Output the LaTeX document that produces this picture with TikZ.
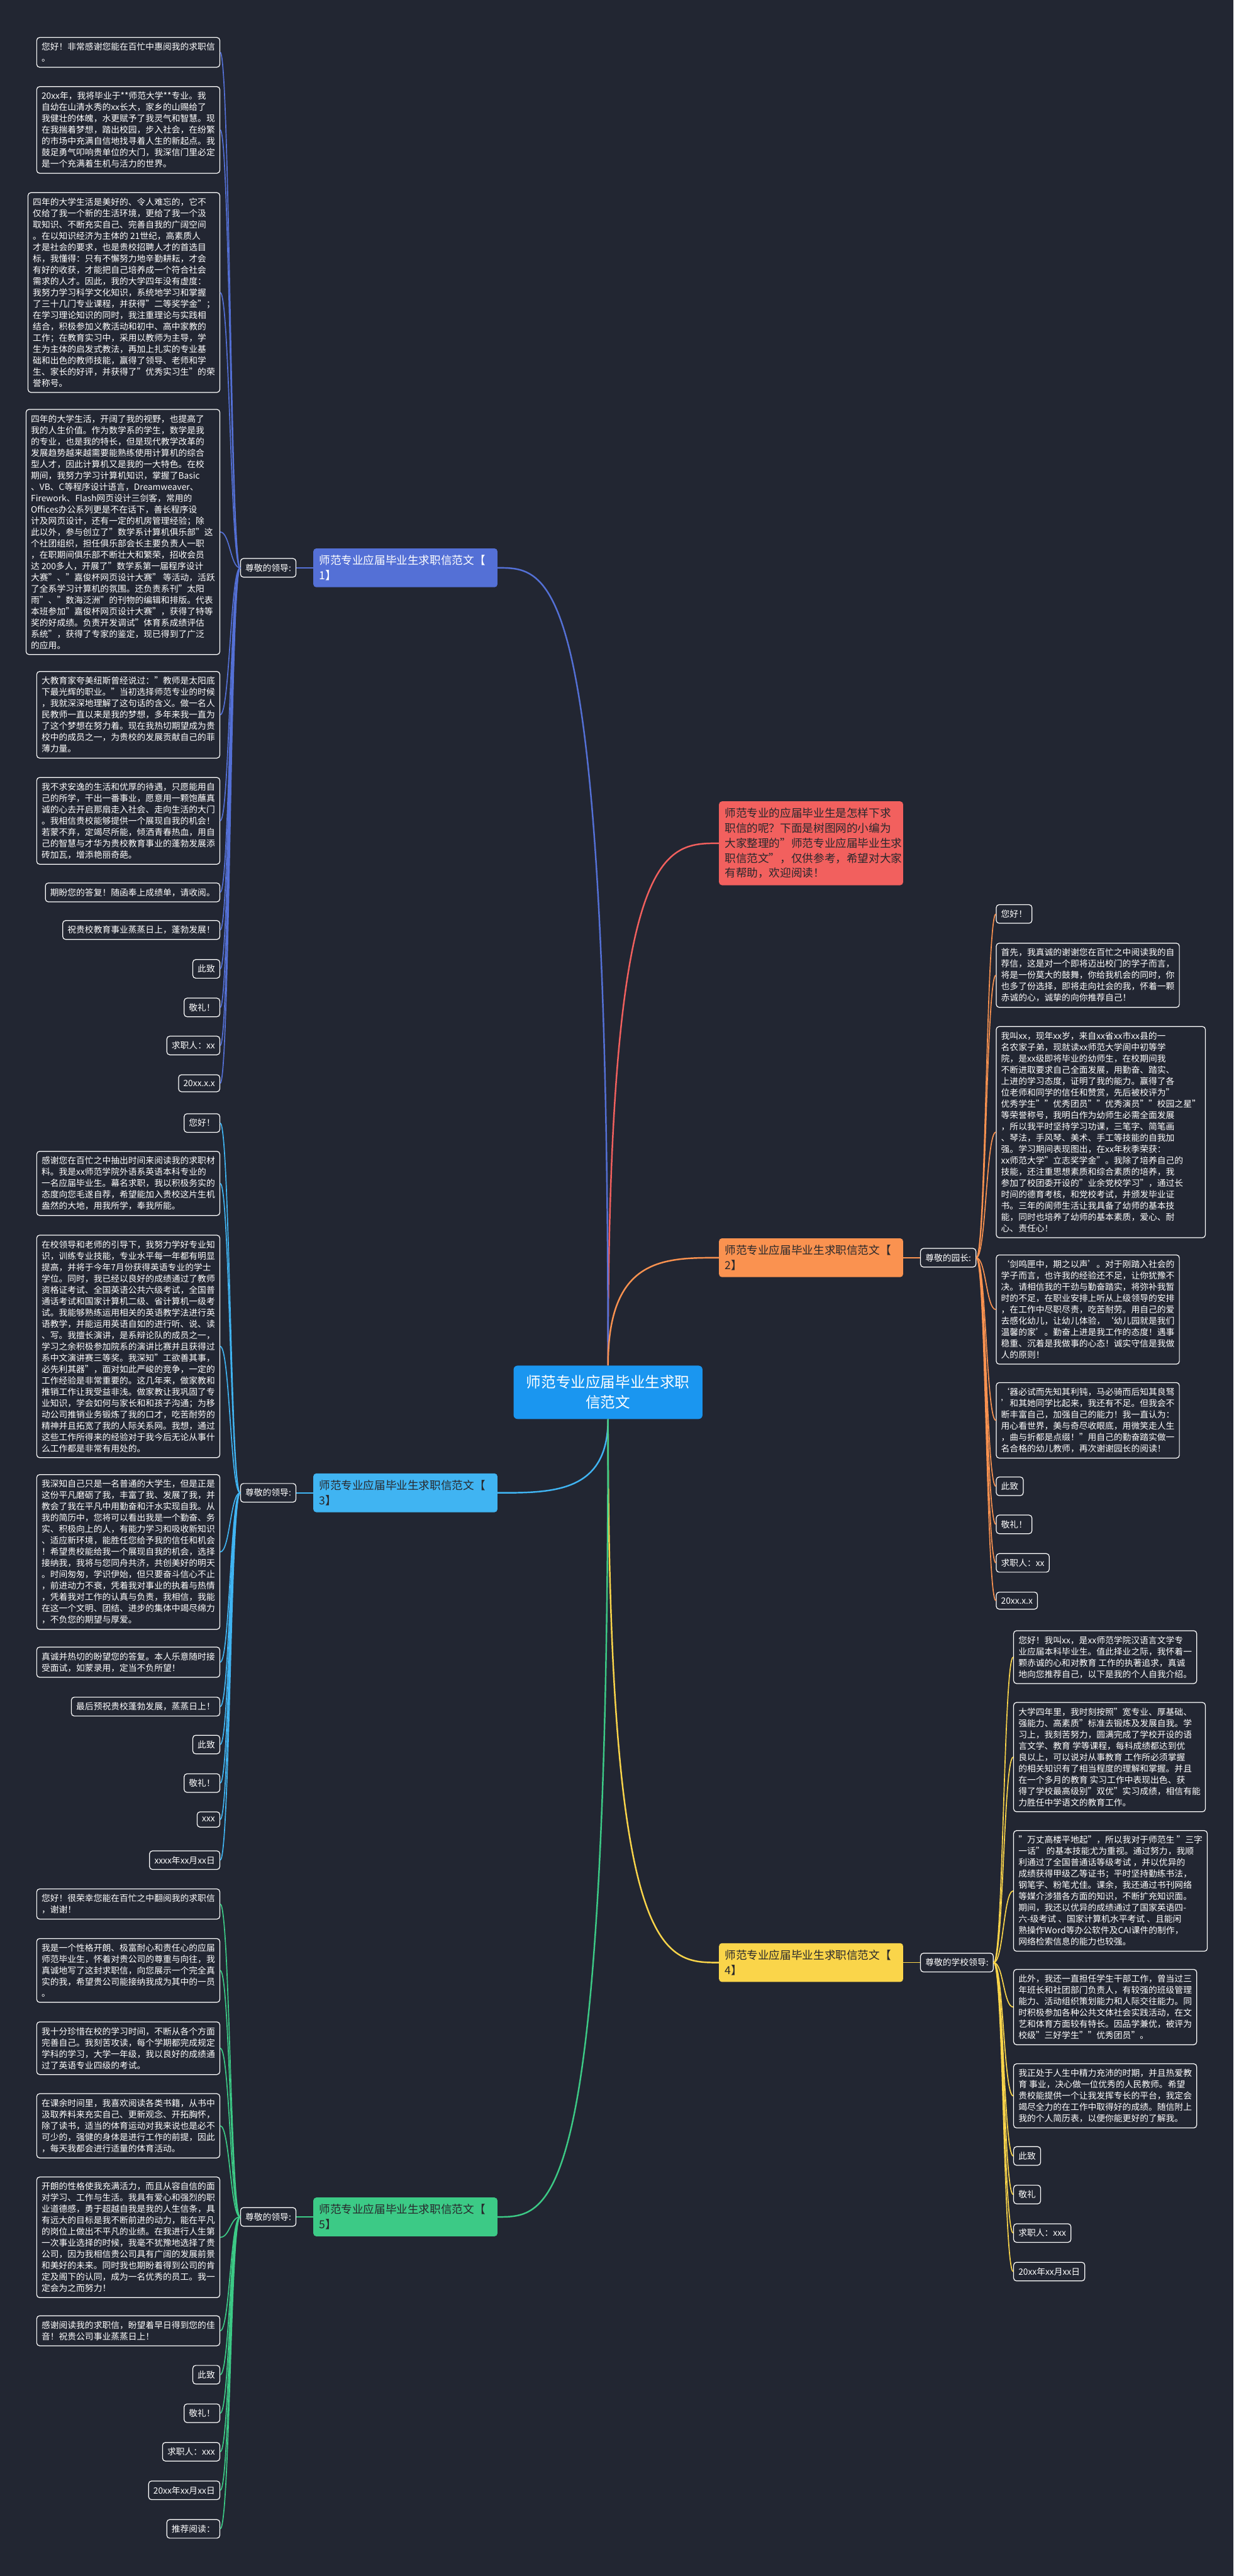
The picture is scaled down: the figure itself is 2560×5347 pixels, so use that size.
\documentclass[tikz,border=0pt]{standalone}
\usepackage{fontspec}
\setmainfont{Noto Sans CJK SC}
\usepackage{xcolor}
\usetikzlibrary{calc}
\definecolor{grund}{RGB}{34,38,50}
\definecolor{dunkel}{RGB}{40,40,44}
\definecolor{mitteblau}{RGB}{26,150,240}
\definecolor{astrot}{RGB}{242,96,94}
\definecolor{astblau}{RGB}{84,112,214}
\definecolor{astorange}{RGB}{250,146,80}
\definecolor{asthellblau}{RGB}{64,180,242}
\definecolor{astgelb}{RGB}{250,213,74}
\definecolor{astgruen}{RGB}{60,202,134}
\newcommand{\Ast}[3]{\draw[ast,#1] (#2) .. controls (#2 |- #3) and ($(#2 |- #3)!0.5!(#3)$) .. (#3);}

\begin{document}
\begin{tikzpicture}[x=0.5pt,y=-0.5pt,
  kasten/.style={draw=white,line width=0.8pt,rounded corners=3pt,fill=grund,text=white,
    font=\fontsize{9}{11.75}\selectfont,inner xsep=5pt,inner ysep=5.5pt},
  breit/.style={kasten,align=left,minimum width=190pt},
  astknoten/.style={rounded corners=3pt,text width=179pt,align=left,inner xsep=6pt,
    inner ysep=7pt,font=\fontsize{11.5}{15.5}\selectfont,text=dunkel},
  kante/.style={line width=1.1pt},
  ast/.style={line width=1.6pt}]
  \useasboundingbox (0,0) rectangle (2560,5347);
  \fill[grund] (0,0) rectangle (2560,5347);

  % Mitte und Hauptaeste
  \node[fill=mitteblau,rounded corners=4pt,text=white,text width=170pt,align=center,
    inner xsep=13pt,inner ysep=10pt,font=\fontsize{15.4}{21}\selectfont]
    (mitte) at (1262,2890) {师范专业应届毕业生求职\\信范文};
  \node[astknoten,fill=astrot,anchor=north west] (einleitung) at (1492,1663)
    {师范专业的应届毕业生是怎样下求\\职信的呢？下面是树图网的小编为\\大家整理的"师范专业应届毕业生求\\职信范文"，仅供参考，希望对大家\\有帮助，欢迎阅读！};
  \node[astknoten,fill=astblau,text=white,anchor=north west] (ast1) at (650,1138) {师范专业应届毕业生求职信范文【\\1】};
  \node[astknoten,fill=astorange,anchor=north west] (ast2) at (1492,2570) {师范专业应届毕业生求职信范文【\\2】};
  \node[astknoten,fill=asthellblau,anchor=north west] (ast3) at (650,3058) {师范专业应届毕业生求职信范文【\\3】};
  \node[astknoten,fill=astgelb,anchor=north west] (ast4) at (1492,4033) {师范专业应届毕业生求职信范文【\\4】};
  \node[astknoten,fill=astgruen,anchor=north west] (ast5) at (650,4561) {师范专业应届毕业生求职信范文【\\5】};

  \node[kasten,anchor=east] (anrede1) at ($(ast1.west)+(-35,0)$) {尊敬的领导:};
  \node[kasten,anchor=west] (anrede2) at ($(ast2.east)+(35,0)$) {尊敬的园长:};
  \node[kasten,anchor=east] (anrede3) at ($(ast3.west)+(-35,0)$) {尊敬的领导:};
  \node[kasten,anchor=west] (anrede4) at ($(ast4.east)+(35,0)$) {尊敬的学校领导:};
  \node[kasten,anchor=east] (anrede5) at ($(ast5.west)+(-35,0)$) {尊敬的领导:};

  % Ast 1
  \node[breit,anchor=north east] (a1) at (457,77) {您好！非常感谢您能在百忙中惠阅我的求职信\\。};
  \node[breit,anchor=north east] (a2) at (457,179) {20xx年，我将毕业于**师范大学**专业。我\\自幼在山清水秀的xx长大，家乡的山赐给了\\我健壮的体魄，水更赋予了我灵气和智慧。现\\在我揣着梦想，踏出校园，步入社会，在纷繁\\的市场中充满自信地找寻着人生的新起点。我\\鼓足勇气叩响贵单位的大门，我深信门里必定\\是一个充满着生机与活力的世界。};
  \node[breit,anchor=north east] (a3) at (457,399) {四年的大学生活是美好的、令人难忘的，它不\\仅给了我一个新的生活环境，更给了我一个汲\\取知识、不断充实自己、完善自我的广阔空间\\。在以知识经济为主体的 21世纪，高素质人\\才是社会的要求，也是贵校招聘人才的首选目\\标，我懂得：只有不懈努力地辛勤耕耘，才会\\有好的收获，才能把自己培养成一个符合社会\\需求的人才。因此，我的大学四年没有虚度：\\我努力学习科学文化知识，系统地学习和掌握\\了三十几门专业课程，并获得"二等奖学金"；\\在学习理论知识的同时，我注重理论与实践相\\结合，积极参加义教活动和初中、高中家教的\\工作；在教育实习中，采用以教师为主导，学\\生为主体的启发式教法，再加上扎实的专业基\\础和出色的教师技能，赢得了领导、老师和学\\生、家长的好评，并获得了"优秀实习生"的荣\\誉称号。};
  \node[breit,anchor=north east] (a4) at (457,849) {四年的大学生活，开阔了我的视野，也提高了\\我的人生价值。作为数学系的学生，数学是我\\的专业，也是我的特长，但是现代教学改革的\\发展趋势越来越需要能熟练使用计算机的综合\\型人才，因此计算机又是我的一大特色。在校\\期间，我努力学习计算机知识，掌握了Basic\\、VB、C等程序设计语言，Dreamweaver、\\Firework、Flash网页设计三剑客，常用的\\Offices办公系列更是不在话下，善长程序设\\计及网页设计，还有一定的机房管理经验；除\\此以外，参与创立了"数学系计算机俱乐部"这\\个社团组织，担任俱乐部会长主要负责人一职\\，在职期间俱乐部不断壮大和繁荣，招收会员\\达 200多人，开展了"数学系第一届程序设计\\大赛"、"嘉俊杯网页设计大赛" 等活动，活跃\\了全系学习计算机的氛围。还负责系刊"太阳\\雨"、"数海泛洲"的刊物的编辑和排版。代表\\本班参加"嘉俊杯网页设计大赛"，获得了特等\\奖的好成绩。负责开发调试"体育系成绩评估\\系统"，获得了专家的鉴定，现已得到了广泛\\的应用。};
  \node[breit,anchor=north east] (a5) at (457,1393) {大教育家夸美纽斯曾经说过："教师是太阳底\\下最光辉的职业。"当初选择师范专业的时候\\，我就深深地理解了这句话的含义。做一名人\\民教师一直以来是我的梦想，多年来我一直为\\了这个梦想在努力着。现在我热切期望成为贵\\校中的成员之一，为贵校的发展贡献自己的菲\\薄力量。};
  \node[breit,anchor=north east] (a6) at (457,1613) {我不求安逸的生活和优厚的待遇，只愿能用自\\己的所学，干出一番事业，愿意用一颗饱蘸真\\诚的心去开启那扇走入社会、走向生活的大门\\。我相信贵校能够提供一个展现自我的机会！\\若蒙不弃，定竭尽所能，倾洒青春热血，用自\\己的智慧与才华为贵校教育事业的蓬勃发展添\\砖加瓦，增添艳丽奇葩。};
  \node[kasten,anchor=north east] (a7) at (457,1832) {期盼您的答复！随函奉上成绩单，请收阅。};
  \node[kasten,anchor=north east] (a8) at (457,1910) {祝贵校教育事业蒸蒸日上，蓬勃发展！};
  \node[kasten,anchor=north east] (a9) at (457,1991) {此致};
  \node[kasten,anchor=north east] (a10) at (457,2071) {敬礼！};
  \node[kasten,anchor=north east] (a11) at (457,2150) {求职人：xx};
  \node[kasten,anchor=north east] (a12) at (457,2230) {20xx.x.x};

  % Ast 3
  \node[kasten,anchor=north east] (c1) at (457,2311) {您好！};
  \node[breit,anchor=north east] (c2) at (457,2389) {感谢您在百忙之中抽出时间来阅读我的求职材\\料。我是xx师范学院外语系英语本科专业的\\一名应届毕业生。幕名求职，我以积极务实的\\态度向您毛遂自荐，希望能加入贵校这片生机\\盎然的大地，用我所学，奉我所能。};
  \node[breit,anchor=north east] (c3) at (457,2563) {在校领导和老师的引导下，我努力学好专业知\\识，训练专业技能，专业水平每一年都有明显\\提高，并将于今年7月份获得英语专业的学士\\学位。同时，我已经以良好的成绩通过了教师\\资格证考试、全国英语公共六级考试，全国普\\通话考试和国家计算机二级、省计算机一级考\\试。我能够熟练运用相关的英语教学法进行英\\语教学，并能运用英语自如的进行听、说、读\\、写。我擅长演讲，是系辩论队的成员之一，\\学习之余积极参加院系的演讲比赛并且获得过\\系中文演讲赛三等奖。我深知"工欲善其事，\\必先利其器"，面对如此严峻的竞争，一定的\\工作经验是非常重要的。这几年来，做家教和\\推销工作让我受益非浅。做家教让我巩固了专\\业知识，学会如何与家长和和孩子沟通；为移\\动公司推销业务锻炼了我的口才，吃苦耐劳的\\精神并且拓宽了我的人际关系网。我想，通过\\这些工作所得来的经验对于我今后无论从事什\\么工作都是非常有用处的。};
  \node[breit,anchor=north east] (c4) at (457,3060) {我深知自己只是一名普通的大学生，但是正是\\这份平凡磨砺了我，丰富了我、发展了我，并\\教会了我在平凡中用勤奋和汗水实现自我。从\\我的简历中，您将可以看出我是一个勤奋、务\\实、积极向上的人，有能力学习和吸收新知识\\、适应新环境，能胜任您给予我的信任和机会\\！希望贵校能给我一个展现自我的机会，选择\\接纳我，我将与您同舟共济，共创美好的明天\\。时间匆匆，学识伊始，但只要奋斗信心不止\\，前进动力不衰，凭着我对事业的执着与热情\\，凭着我对工作的认真与负责，我相信，我能\\在这一个文明、团结、进步的集体中竭尽绵力\\，不负您的期望与厚爱。};
  \node[breit,anchor=north east] (c5) at (457,3418) {真诚并热切的盼望您的答复。本人乐意随时接\\受面试，如蒙录用，定当不负所望！};
  \node[kasten,anchor=north east] (c6) at (457,3522) {最后预祝贵校蓬勃发展，蒸蒸日上！};
  \node[kasten,anchor=north east] (c7) at (457,3601) {此致};
  \node[kasten,anchor=north east] (c8) at (457,3681) {敬礼！};
  \node[kasten,anchor=north east] (c9) at (457,3760) {xxx};
  \node[kasten,anchor=north east] (c10) at (457,3841) {xxxx年xx月xx日};

  % Ast 5
  \node[breit,anchor=north east] (e1) at (457,3920) {您好！很荣幸您能在百忙之中翻阅我的求职信\\，谢谢！};
  \node[breit,anchor=north east] (e2) at (457,4023) {我是一个性格开朗、极富耐心和责任心的应届\\师范毕业生，怀着对贵公司的尊重与向往，我\\真诚地写了这封求职信，向您展示一个完全真\\实的我，希望贵公司能接纳我成为其中的一员\\。};
  \node[breit,anchor=north east] (e3) at (457,4196) {我十分珍惜在校的学习时间，不断从各个方面\\完善自己。我刻苦攻读，每个学期都完成规定\\学科的学习，大学一年级，我以良好的成绩通\\过了英语专业四级的考试。};
  \node[breit,anchor=north east] (e4) at (457,4345) {在课余时间里，我喜欢阅读各类书籍，从书中\\汲取养料来充实自己、更新观念、开拓胸怀，\\除了读书，适当的体育运动对我来说也是必不\\可少的，强健的身体是进行工作的前提，因此\\，每天我都会进行适量的体育活动。};
  \node[breit,anchor=north east] (e5) at (457,4518) {开朗的性格使我充满活力，而且从容自信的面\\对学习、工作与生活。我具有爱心和强烈的职\\业道德感，勇于超越自我是我的人生信条，具\\有远大的目标是我不断前进的动力，能在平凡\\的岗位上做出不平凡的业绩。在我进行人生第\\一次事业选择的时候，我毫不犹豫地选择了贵\\公司，因为我相信贵公司具有广阔的发展前景\\和美好的未来。同时我也期盼着得到公司的肯\\定及阁下的认同，成为一名优秀的员工。我一\\定会为之而努力！};
  \node[breit,anchor=north east] (e6) at (457,4806) {感谢阅读我的求职信，盼望着早日得到您的佳\\音！祝贵公司事业蒸蒸日上！};
  \node[kasten,anchor=north east] (e7) at (457,4909) {此致};
  \node[kasten,anchor=north east] (e8) at (457,4989) {敬礼！};
  \node[kasten,anchor=north east] (e9) at (457,5069) {求职人：xxx};
  \node[kasten,anchor=north east] (e10) at (457,5149) {20xx年xx月xx日};
  \node[kasten,anchor=north east] (e11) at (457,5229) {推荐阅读：};

  % Ast 2
  \node[kasten,anchor=north west] (b1) at (2067,1877) {您好！};
  \node[breit,anchor=north west] (b2) at (2067,1957) {首先，我真诚的谢谢您在百忙之中阅读我的自\\荐信，这是对一个即将迈出校门的学子而言，\\将是一份莫大的鼓舞，你给我机会的同时，你\\也多了份选择，即将走向社会的我，怀着一颗\\赤诚的心，诚挚的向你推荐自己！};
  \node[breit,anchor=north west] (b3) at (2067,2130) {我叫xx，现年xx岁，来自xx省xx市xx县的一\\名农家子弟，现就读xx师范大学阆中初等学\\院，是xx级即将毕业的幼师生，在校期间我\\不断进取要求自己全面发展，用勤奋、踏实、\\上进的学习态度，证明了我的能力。赢得了各\\位老师和同学的信任和赞赏，先后被校评为"\\优秀学生""优秀团员""优秀演员""校园之星"\\等荣誉称号，我明白作为幼师生必需全面发展\\，所以我平时坚持学习功课，三笔字、简笔画\\、琴法，手风琴、美术、手工等技能的自我加\\强。学习期间表现图出，在xx年秋季荣获：\\xx师范大学"立志奖学金"。我除了培养自己的\\技能，还注重思想素质和综合素质的培养，我\\参加了校团委开设的"业余党校学习"，通过长\\时间的德育考核，和党校考试，并颁发毕业证\\书。三年的阆师生活让我具备了幼师的基本技\\能，同时也培养了幼师的基本素质，爱心、耐\\心、责任心！};
  \node[breit,anchor=north west] (b4) at (2067,2604) {‘剑鸣匣中，期之以声’。对于刚踏入社会的\\学子而言，也许我的经验还不足，让你犹豫不\\决。请相信我的干劲与勤奋踏实，将弥补我暂\\时的不足，在职业安排上听从上级领导的安排\\，在工作中尽职尽责，吃苦耐劳。用自己的爱\\去感化幼儿，让幼儿体验，‘幼儿园就是我们\\温馨的家’。勤奋上进是我工作的态度！遇事\\稳重、沉着是我做事的心态！诚实守信是我做\\人的原则！};
  \node[breit,anchor=north west] (b5) at (2067,2869) {‘器必试而先知其利钝，马必骑而后知其良驽\\’和其她同学比起来，我还有不足。但我会不\\断丰富自己，加强自己的能力！我一直认为：\\用心看世界，美与奇尽收眼底，用微笑走人生\\，曲与折都是点缀！"用自己的勤奋踏实做一\\名合格的幼儿教师，再次谢谢园长的阅读！};
  \node[kasten,anchor=north west] (b6) at (2067,3065) {此致};
  \node[kasten,anchor=north west] (b7) at (2067,3144) {敬礼！};
  \node[kasten,anchor=north west] (b8) at (2067,3224) {求职人：xx};
  \node[kasten,anchor=north west] (b9) at (2067,3304) {20xx.x.x};

  % Ast 4
  \node[breit,anchor=north west] (d1) at (2103,3384) {您好！我叫xx，是xx师范学院汉语言文学专\\业应届本科毕业生。值此择业之际，我怀着一\\颗赤诚的心和对教育 工作的执著追求，真诚\\地向您推荐自己，以下是我的个人自我介绍。};
  \node[breit,anchor=north west] (d2) at (2103,3533) {大学四年里，我时刻按照"宽专业、厚基础、\\强能力、高素质"标准去锻炼及发展自我。学\\习上，我刻苦努力，圆满完成了学校开设的语\\言文学、教育 学等课程，每科成绩都达到优\\良以上，可以说对从事教育 工作所必须掌握\\的相关知识有了相当程度的理解和掌握。并且\\在一个多月的教育 实习工作中表现出色、获\\得了学校最高级别"双优"实习成绩，相信有能\\力胜任中学语文的教育工作。};
  \node[breit,anchor=north west] (d3) at (2103,3799) {"万丈高楼平地起"，所以我对于师范生 "三字\\一话" 的基本技能尤为重视。通过努力，我顺\\利通过了全国普通话等级考试 ，并以优异的\\成绩获得甲级乙等证书；平时坚持勤练书法，\\钢笔字、粉笔尤佳。课余，我还通过书刊网络\\等媒介涉猎各方面的知识，不断扩充知识面。\\期间，我还以优异的成绩通过了国家英语四-\\六-级考试 、国家计算机水平考试 、且能闲\\熟操作Word等办公软件及CAI课件的制作，\\网络检索信息的能力也较强。};
  \node[breit,anchor=north west] (d4) at (2103,4087) {此外，我还一直担任学生干部工作，曾当过三\\年班长和社团部门负责人，有较强的班级管理\\能力、活动组织策划能力和人际交往能力。同\\时积极参加各种公共文体社会实践活动，在文\\艺和体育方面较有特长。因品学兼优，被评为\\校级"三好学生""优秀团员"。};
  \node[breit,anchor=north west] (d5) at (2103,4283) {我正处于人生中精力充沛的时期，并且热爱教\\育 事业，决心做一位优秀的人民教师。希望\\贵校能提供一个让我发挥专长的平台，我定会\\竭尽全力的在工作中取得好的成绩。随信附上\\我的个人简历表，以便你能更好的了解我。};
  \node[kasten,anchor=north west] (d6) at (2103,4455) {此致};
  \node[kasten,anchor=north west] (d7) at (2103,4535) {敬礼};
  \node[kasten,anchor=north west] (d8) at (2103,4615) {求职人：xxx};
  \node[kasten,anchor=north west] (d9) at (2103,4695) {20xx年xx月xx日};

  % Verbindungen
  \Ast{astrot}{mitte.north}{einleitung.west}
  \Ast{astblau}{mitte.north}{ast1.east}
  \Ast{astorange}{mitte.north}{ast2.west}
  \Ast{asthellblau}{mitte.south}{ast3.east}
  \Ast{astgelb}{mitte.south}{ast4.west}
  \Ast{astgruen}{mitte.south}{ast5.east}
  \draw[kante,astblau] (ast1.west) -- (anrede1.east);
  \draw[kante,astorange] (ast2.east) -- (anrede2.west);
  \draw[kante,asthellblau] (ast3.west) -- (anrede3.east);
  \draw[kante,astgelb] (ast4.east) -- (anrede4.west);
  \draw[kante,astgruen] (ast5.west) -- (anrede5.east);
  \foreach \i in {1,...,12}
    \draw[kante,astblau] (anrede1.west) .. controls +(-20,0) and +(20,0) .. (a\i.east);
  \foreach \i in {1,...,10}
    \draw[kante,asthellblau] (anrede3.west) .. controls +(-20,0) and +(20,0) .. (c\i.east);
  \foreach \i in {1,...,11}
    \draw[kante,astgruen] (anrede5.west) .. controls +(-20,0) and +(20,0) .. (e\i.east);
  \foreach \i in {1,...,9}
    \draw[kante,astorange] (anrede2.east) .. controls +(20,0) and +(-20,0) .. (b\i.west);
  \foreach \i in {1,...,9}
    \draw[kante,astgelb] (anrede4.east) .. controls +(20,0) and +(-20,0) .. (d\i.west);
\end{tikzpicture}
\end{document}
